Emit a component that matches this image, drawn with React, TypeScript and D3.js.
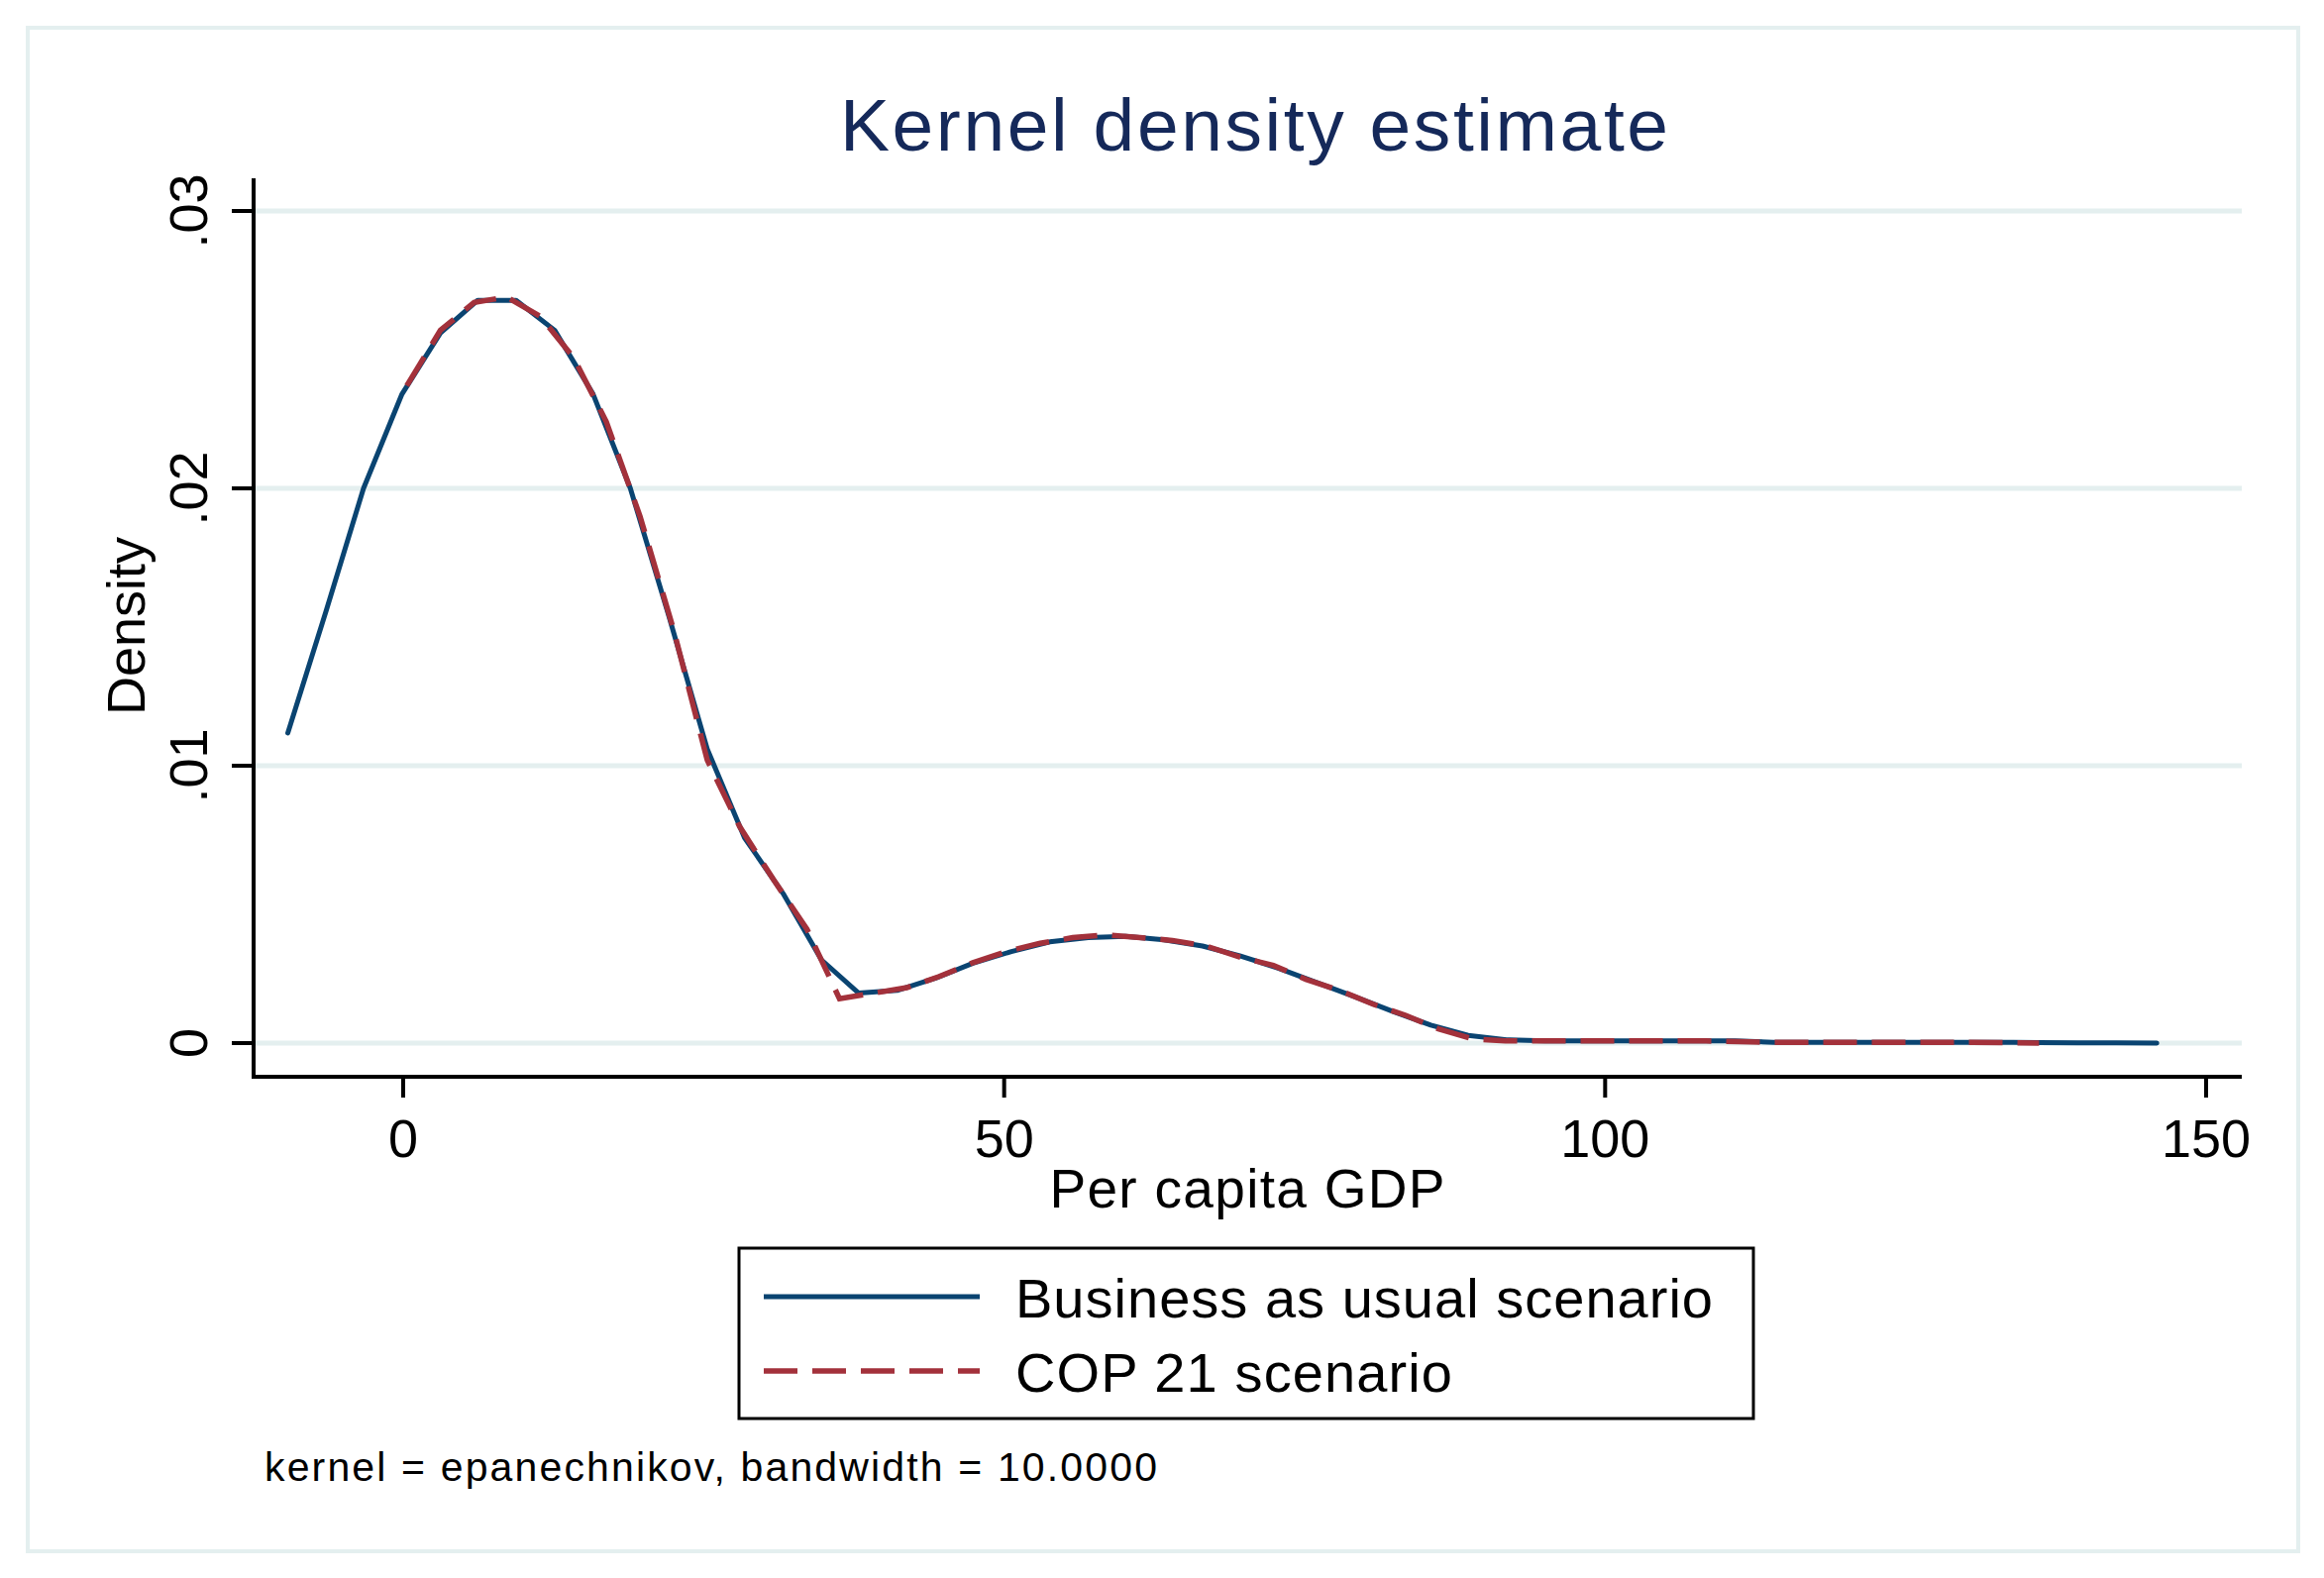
import React from "react";
import * as d3 from "d3";

const WIDTH = 2346;
const HEIGHT = 1593;
const FONT = "'Liberation Sans', Arial, Helvetica, sans-serif";

// Business as usual scenario (kdensity evaluation points)
const bauX = [
  -9.6, -6.4, -3.3, -0.1, 3.1, 6.2, 9.4, 12.6, 15.8, 18.9,
  22.1, 25.3, 28.4, 31.6, 34.8, 37.9, 41.1, 44.3, 47.4, 50.6,
  53.8, 57.0, 60.1, 63.3, 66.5, 69.6, 72.8, 76.0, 79.1, 82.3,
  85.5, 88.6, 91.8, 95.0, 98.1, 101.3, 104.5, 107.6, 110.8, 114.0,
  117.1, 120.3, 123.5, 126.6, 129.8, 133.0, 136.1, 139.3, 142.5, 145.9,
];
const bauY = [
  0.01118, 0.0156, 0.02, 0.0234, 0.0256, 0.02678, 0.02678, 0.0257, 0.0234, 0.02,
  0.0154, 0.0106, 0.0074, 0.0054, 0.003, 0.0018, 0.0019, 0.00234, 0.00288, 0.0033,
  0.00365, 0.0038, 0.00385, 0.00372, 0.0035, 0.00315, 0.0027, 0.00218, 0.00168, 0.00115,
  0.00065, 0.00028, 0.00012, 0.00008, 0.00008, 0.00008, 0.00008, 0.00008, 0.00008, 0.00003,
  0.00003, 0.00003, 0.00003, 0.00003, 0.00003, 0.00003, 0.00002, 0.00001, 0.00001, 0.0,
];

// COP 21 scenario
const copX = [
  0.3, 3.1, 5.9, 8.6, 11.4, 14.2, 16.9, 19.7, 22.5, 25.3,
  28.0, 30.8, 33.6, 36.3, 39.1, 41.9, 44.6, 47.4, 50.2, 53.0,
  55.7, 58.5, 61.3, 64.0, 66.8, 69.6, 72.4, 75.1, 77.9, 80.7,
  83.4, 86.2, 89.0, 91.7, 94.5, 97.3, 100.1, 102.8, 105.6, 108.4,
  111.1, 113.9, 116.7, 119.5, 122.2, 125.0, 127.8, 130.5, 133.3, 136.1,
];
const copY = [
  0.0237, 0.0257, 0.0267, 0.0269, 0.0262, 0.0247, 0.0224, 0.019, 0.0149, 0.0102,
  0.0078, 0.0059, 0.0041, 0.0016, 0.0018, 0.002, 0.0024, 0.0029, 0.0033, 0.0036,
  0.0038, 0.0039, 0.0038, 0.0037, 0.0035, 0.0031, 0.0028, 0.0023, 0.0019, 0.0014,
  0.001, 0.0005, 0.00015, 0.00008, 0.00008, 0.00008, 0.00008, 0.00008, 0.00008, 0.00008,
  0.00005, 0.00003, 0.00003, 0.00003, 0.00003, 0.00003, 0.00003, 0.00003, 0.00002, 0.0,
];

const xTicks = [0, 50, 100, 150];
const yTicks = [0, 0.01, 0.02, 0.03];
const yTickLabels = ["0", ".01", ".02", ".03"];
const seriesNames = ["Business as usual scenario", "COP 21 scenario"];

const BLUE = "#0a4471";
const RED = "#a3313b";
const GRID = "#e4efef";

const App = () => {
  const x = d3.scaleLinear().domain([0, 150]).range([407, 2227]);
  const y = d3.scaleLinear().domain([0, 0.03]).range([1053, 213]);

  const plotLeft = 256;
  const plotRight = 2263;
  const plotTop = 180;
  const plotBottom = 1087;

  const line = d3
    .line<[number, number]>()
    .x((d) => x(d[0]))
    .y((d) => y(d[1]));

  const bau = bauX.map((v, i) => [v, bauY[i]] as [number, number]);
  const cop = copX.map((v, i) => [v, copY[i]] as [number, number]);

  return (
    <svg
      width={WIDTH}
      height={HEIGHT}
      style={{ position: "absolute", left: 0, top: 0, background: "#fff" }}
      fontFamily={FONT}
    >
      <rect x={0} y={0} width={WIDTH} height={HEIGHT} fill="#fff" />
      <rect x={28} y={28} width={2292} height={1538} fill="none" stroke={GRID} strokeWidth={4} />

      {/* title */}
      <text x={1266} y={152} textAnchor="middle" fontSize={75} fill="#15295a" textLength={836} lengthAdjust="spacing">
        Kernel density estimate
      </text>

      {/* gridlines */}
      {yTicks.map((t) => (
        <line key={t} x1={plotLeft} x2={plotRight} y1={y(t)} y2={y(t)} stroke={GRID} strokeWidth={5} />
      ))}

      {/* curves */}
      <path d={line(bau) || ""} fill="none" stroke={BLUE} strokeWidth={5} strokeLinejoin="round" strokeLinecap="round" />
      <path d={line(cop) || ""} fill="none" stroke={RED} strokeWidth={5.5} strokeDasharray="34 15" />

      {/* y axis */}
      <line x1={plotLeft} x2={plotLeft} y1={plotTop} y2={plotBottom + 2} stroke="#000" strokeWidth={4} />
      {yTicks.map((t, i) => (
        <g key={t}>
          <line x1={plotLeft - 22} x2={plotLeft} y1={y(t)} y2={y(t)} stroke="#000" strokeWidth={4} />
          <text
            transform={`translate(209,${y(t)}) rotate(-90)`}
            textAnchor="middle"
            fontSize={54}
            fill="#000"
          >
            {yTickLabels[i]}
          </text>
        </g>
      ))}
      <text transform="translate(146,632) rotate(-90)" textAnchor="middle" fontSize={54} fill="#000">
        Density
      </text>

      {/* x axis */}
      <line x1={plotLeft - 2} x2={plotRight} y1={plotBottom} y2={plotBottom} stroke="#000" strokeWidth={4} />
      {xTicks.map((t) => (
        <g key={t}>
          <line x1={x(t)} x2={x(t)} y1={plotBottom} y2={plotBottom + 21} stroke="#000" strokeWidth={4} />
          <text x={x(t)} y={1168} textAnchor="middle" fontSize={54} fill="#000">
            {t}
          </text>
        </g>
      ))}
      <text x={1259} y={1219} textAnchor="middle" fontSize={55} fill="#000" textLength={399} lengthAdjust="spacing">
        Per capita GDP
      </text>

      {/* legend */}
      <rect x={746} y={1260} width={1024} height={172} fill="#fff" stroke="#000" strokeWidth={3} />
      <line x1={771} x2={989} y1={1309} y2={1309} stroke={BLUE} strokeWidth={5} />
      <line x1={771} x2={989} y1={1384} y2={1384} stroke={RED} strokeWidth={5.5} strokeDasharray="34 15" />
      <text x={1025} y={1330} fontSize={56} fill="#000" textLength={704} lengthAdjust="spacing">
        {seriesNames[0]}
      </text>
      <text x={1025} y={1405} fontSize={56} fill="#000" textLength={441} lengthAdjust="spacing">
        {seriesNames[1]}
      </text>

      {/* note */}
      <text x={267} y={1495} fontSize={41} fill="#000" textLength={901} lengthAdjust="spacing">
        kernel = epanechnikov, bandwidth = 10.0000
      </text>
    </svg>
  );
};

export default App;
